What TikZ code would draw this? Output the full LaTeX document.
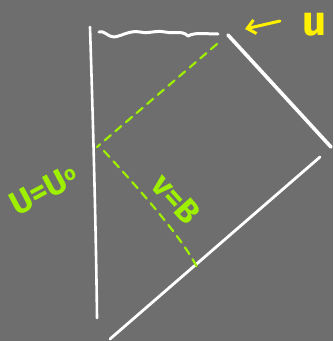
\documentclass[tikz,border=0pt]{standalone}
\usepackage{fontspec}
\setmainfont{Fira Sans}
\usetikzlibrary{arrows.meta}
\definecolor{bg}{HTML}{6E6E6E}
\definecolor{lime}{HTML}{9EF000}
\definecolor{yel}{HTML}{FFF000}
\tikzset{
  chalk/.style={white, line width=3pt, line cap=round, line join=round},
  guide/.style={lime, line width=2.2pt, dash pattern=on 8pt off 6pt, line cap=round},
  lab/.style={lime, inner sep=0pt, font=\bfseries\fontsize{33}{33}\selectfont},
}
\begin{document}
\begin{tikzpicture}[x=1pt,y=-1pt]
\fill[bg] (0,0) rectangle (333,341);
\useasboundingbox (0,0) rectangle (333,341);
% corners
\coordinate (tl) at (99,32);
\coordinate (tr) at (218,34);
\coordinate (r0) at (228,35);
\coordinate (r1) at (331,147);
\coordinate (b0) at (320,157);
\coordinate (b1) at (110,339);
\coordinate (v0) at (90,27);
\coordinate (v1) at (97,318);
\coordinate (g0) at (217,44);
\coordinate (g1) at (97,147);
\coordinate (g2) at (104,151);
\coordinate (g3) at (197,267);
% boundary
\draw[chalk, line width=2.6pt] (v0) .. controls (93,120) and (96,230) .. (v1);
\draw[chalk, line width=3pt] (tl) .. controls (104,30) and (108,37) .. (114,37)
  .. controls (122,36) and (130,30) .. (140,32)
  .. controls (150,34) and (155,30) .. (165,32)
  .. controls (175,34) and (182,30) .. (188,36)
  .. controls (195,32) and (205,34) .. (tr);
\draw[chalk, line width=3.6pt] (r0) -- (r1);
\draw[chalk, line width=2.8pt] (b0) -- (b1);
% dashed lines
\draw[guide] (g0) -- (g1);
\draw[guide] (g2) .. controls (140,190) and (180,235) .. (g3);
% labels
\node[lab, rotate=28] (uu0) at (44,190) {U=U\raisebox{0.4ex}{\fontsize{20}{20}\selectfont o}};
\node[lab, rotate=-48] (vb) at (176,199) {v=B};
\node[yel, inner sep=0pt, font=\bfseries\fontsize{42}{42}\selectfont] (u) at (315,25) {u};
\coordinate (at) at (280,21);
\draw[yel, line width=3pt, line cap=round, -{Straight Barb[length=8pt,width=14pt,line width=3pt]}] (at) -- (245,29);
\end{tikzpicture}
\end{document}
